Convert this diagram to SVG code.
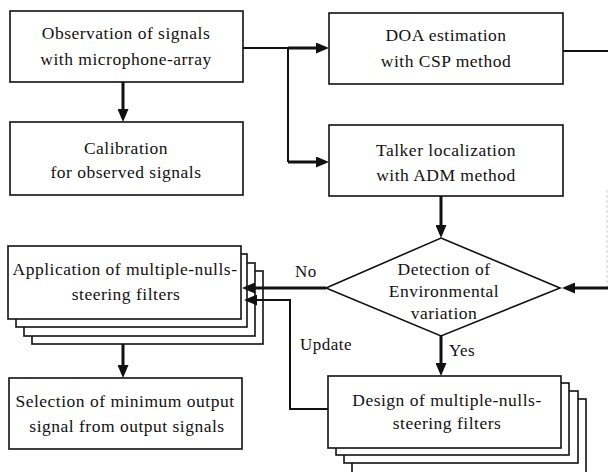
<svg xmlns="http://www.w3.org/2000/svg" width="608" height="472" viewBox="0 0 608 472">
<defs>
<style>
.box{fill:#fff;stroke:#111;stroke-width:1.6}
.t{font-family:"Liberation Serif","Times New Roman",serif;font-size:17.5px;fill:#111;text-anchor:middle;letter-spacing:0.5px}
.lbl{font-family:"Liberation Serif","Times New Roman",serif;font-size:17px;fill:#111;letter-spacing:0.5px}
.c{fill:none;stroke:#111;stroke-width:3}
.cn{fill:none;stroke:#111;stroke-width:2}
</style>
<marker id="ah" viewBox="0 0 13 11" refX="9" refY="5.5" markerWidth="13" markerHeight="11" markerUnits="userSpaceOnUse" orient="auto">
<path d="M0,0 L13,5.5 L0,11 Z" fill="#111"/>
</marker>
</defs>
<rect width="608" height="472" fill="#fff"/>

<g id="connectors">
<path class="c" d="M123,82 V118" marker-end="url(#ah)"/>
<path class="cn" d="M243,48 H288"/>
<path class="c" d="M288,48 H325" marker-end="url(#ah)"/>
<path class="cn" d="M288,48 V162"/>
<path class="c" d="M288,162 H325" marker-end="url(#ah)"/>
<path class="cn" d="M563,51 H608"/>
<path d="M607,190 V288" fill="none" stroke="#ccc" stroke-width="1" stroke-dasharray="3,2"/>
<path class="c" d="M608,288 H566" marker-end="url(#ah)"/>
<path class="c" d="M441,196 V234" marker-end="url(#ah)"/>
<path class="c" d="M123,319 V374" marker-end="url(#ah)"/>
<path class="c" d="M441,336 V372" marker-end="url(#ah)"/>
</g>

<g id="n1"><rect class="box" x="10" y="11" width="233" height="71"/>
<text class="t" x="126" y="39">Observation of signals</text>
<text class="t" x="126" y="65">with microphone-array</text></g>

<g id="n2"><rect class="box" x="10" y="122" width="233" height="73"/>
<text class="t" x="126" y="154">Calibration</text>
<text class="t" x="126" y="178">for observed signals</text></g>

<g id="n3"><rect class="box" x="329" y="13" width="234" height="71"/>
<text class="t" x="446" y="41">DOA estimation</text>
<text class="t" x="446" y="67">with CSP method</text></g>

<g id="n4"><rect class="box" x="329" y="125" width="234" height="71"/>
<text class="t" x="446" y="156">Talker localization</text>
<text class="t" x="446" y="181">with ADM method</text></g>

<g id="n5">
<rect class="box" x="32" y="271" width="231" height="73"/>
<rect class="box" x="24" y="263" width="231" height="73"/>
<rect class="box" x="16" y="254" width="231" height="73"/>
<rect class="box" x="8" y="246" width="233" height="73"/>
<text class="t" x="125" y="275">Application of multiple-nulls-</text>
<text class="t" x="126" y="300">steering filters</text></g>

<g id="n6"><rect class="box" x="9" y="378" width="233" height="71"/>
<text class="t" x="125" y="407">Selection of minimum output</text>
<text class="t" x="127" y="432">signal from output signals</text></g>

<g id="n7"><path class="box" d="M441,238 L560,288 L441,336 L326,288 Z"/>
<text class="t" x="444" y="275">Detection of</text>
<text class="t" x="444" y="297">Environmental</text>
<text class="t" x="444" y="319">variation</text></g>

<g id="n8">
<rect class="box" x="352" y="399" width="234" height="74"/>
<rect class="box" x="344" y="391" width="234" height="72"/>
<rect class="box" x="336" y="383" width="233" height="72"/>
<rect class="box" x="328" y="376" width="233" height="72"/>
<text class="t" x="447" y="406">Design of multiple-nulls-</text>
<text class="t" x="447" y="429">steering filters</text></g>

<g id="connectors2">
<path class="c" d="M326,288 H246" marker-end="url(#ah)"/>
<path class="cn" d="M328,409 H290 V300 H252"/>
<path class="c" d="M256,300 H248" marker-end="url(#ah)"/>
</g>

<text class="lbl" x="295" y="277">No</text>
<text class="lbl" x="300" y="350">Update</text>
<text class="lbl" x="449" y="356">Yes</text>
</svg>
